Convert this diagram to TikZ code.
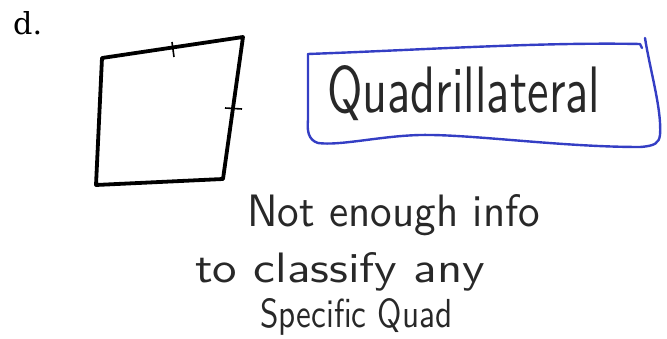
\documentclass[tikz,border=0pt]{standalone}
\usepackage{fontspec}
\usepackage{graphicx}
\newfontfamily\labelfont{DejaVu Serif}
\definecolor{penblue}{RGB}{52,62,196}
\definecolor{pencil}{RGB}{40,40,40}
\tikzset{
  quadline/.style={line width=3.8pt, black, line join=round, line cap=round},
  tickline/.style={line width=1.6pt, black},
  boxline/.style={line width=2.4pt, penblue, line cap=round, line join=round},
  hand/.style={inner sep=0pt, anchor=base west, text=pencil, font=\sffamily}
}
\begin{document}
\begin{tikzpicture}[x=1pt,y=-1pt]
\useasboundingbox (0,0) rectangle (667,339);
% label
\node[inner sep=0pt, anchor=base west] (lbl) at (13,35) {\resizebox{!}{23pt}{\labelfont d.}};
% quadrilateral
\coordinate (A) at (102,58);
\coordinate (B) at (243,37);
\coordinate (C) at (223,179);
\coordinate (D) at (96,185);
\draw[quadline] (A) -- (B) -- (C) -- (D) -- cycle;
\coordinate (t1a) at (172,42);
\coordinate (t1b) at (174,57);
\draw[tickline] (t1a) -- (t1b);
\coordinate (t2a) at (225,108);
\coordinate (t2b) at (242,109);
\draw[tickline] (t2a) -- (t2b);
% blue box
\coordinate (b1) at (308,54);
\coordinate (b2) at (640,44);
\coordinate (b3) at (645,38);
\draw[boxline] (b1) .. controls (420,50) and (540,42) .. (b2) -- (642,48);
\draw[boxline] (b3) .. controls (650,70) and (662,110) .. (660,135) .. controls (659,143) and (655,146) .. (640,147)
  .. controls (560,147) and (470,134) .. (420,135) .. controls (380,136) and (340,146) .. (318,143)
  .. controls (308,140) and (307,130) .. (308,120) -- (b1);
% texts
\node[hand] (quad) at (327,113) {\resizebox{273pt}{47pt}{Quadrillateral}};
\node[hand] (l1) at (247,227) {\resizebox{293pt}{32pt}{Not enough info}};
\node[hand] (l2) at (195,283) {\resizebox{290pt}{30pt}{to classify any}};
\node[hand] (l3) at (260,327) {\resizebox{192pt}{29pt}{Specific Quad}};
\end{tikzpicture}
\end{document}
